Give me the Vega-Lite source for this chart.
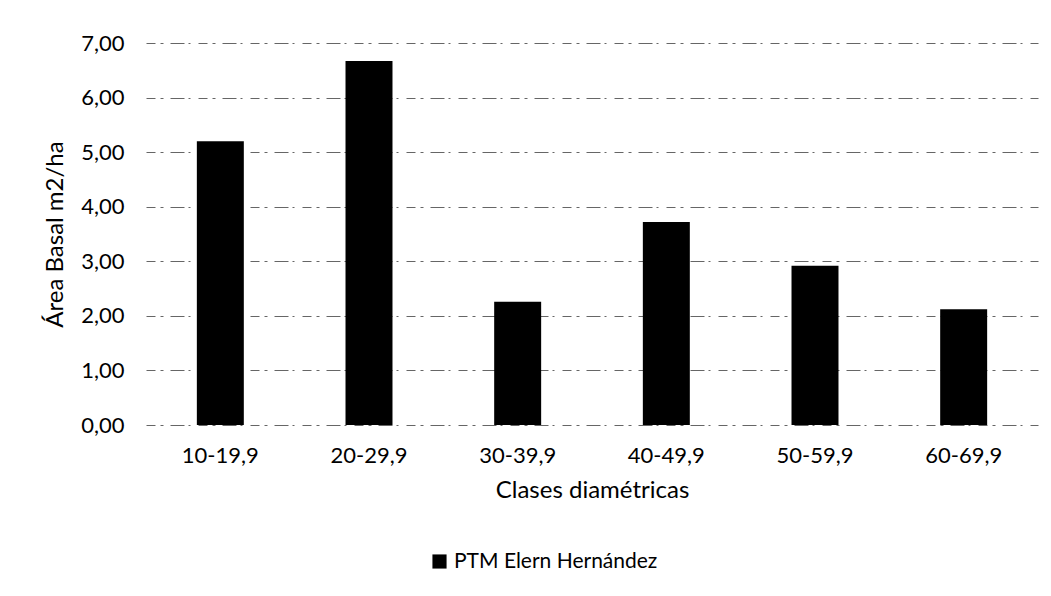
{
  "$schema": "https://vega.github.io/schema/vega-lite/v6.json",
  "width": 892,
  "height": 382,
  "autosize": {"type": "none"},
  "padding": {"left": 146, "top": 43, "right": 13, "bottom": 171},
  "background": "white",
  "config": {
    "locale": {"number": {"decimal": ",", "thousands": ".", "grouping": [3], "currency": ["", " €"]}},
    "font": "Lato",
    "view": {"stroke": null},
    "axis": {
      "labelFont": "Lato",
      "titleFont": "Lato",
      "labelColor": "#000",
      "titleColor": "#000",
      "labelFontSize": 22,
      "titleFontSize": 24,
      "titleFontWeight": "normal",
      "ticks": false,
      "domain": false
    }
  },
  "data": {
    "values": [
      {"clase": "10-19,9", "area": 5.20, "serie": "PTM Elern Hernández"},
      {"clase": "20-29,9", "area": 6.67, "serie": "PTM Elern Hernández"},
      {"clase": "30-39,9", "area": 2.26, "serie": "PTM Elern Hernández"},
      {"clase": "40-49,9", "area": 3.72, "serie": "PTM Elern Hernández"},
      {"clase": "50-59,9", "area": 2.92, "serie": "PTM Elern Hernández"},
      {"clase": "60-69,9", "area": 2.12, "serie": "PTM Elern Hernández"}
    ]
  },
  "mark": {"type": "bar", "stroke": null},
  "encoding": {
    "x": {
      "field": "clase",
      "type": "nominal",
      "sort": null,
      "scale": {"paddingInner": 0.684, "paddingOuter": 0.342},
      "axis": {
        "title": "Clases diamétricas",
        "labelAngle": 0,
        "labelPadding": 20,
        "titlePadding": 12,
        "grid": false
      }
    },
    "y": {
      "field": "area",
      "type": "quantitative",
      "scale": {"domain": [0, 7], "nice": false},
      "axis": {
        "title": "Área Basal m2/ha",
        "values": [0, 1, 2, 3, 4, 5, 6, 7],
        "format": ".2f",
        "labelPadding": 22,
        "titlePadding": 13,
        "grid": true,
        "gridColor": "#000",
        "gridWidth": 1,
        "gridOpacity": 0.6,
        "gridDash": [9, 5, 3, 7, 14, 4, 2, 8]
      }
    },
    "color": {
      "field": "serie",
      "type": "nominal",
      "scale": {"range": ["#000000"]},
      "legend": {
        "title": null,
        "orient": "none",
        "legendX": 283,
        "legendY": 508,
        "symbolType": "square",
        "symbolSize": 200,
        "labelFont": "Lato",
        "labelFontSize": 21,
        "labelColor": "#000",
        "labelLimit": 400,
        "labelOffset": 4
      }
    }
  }
}
